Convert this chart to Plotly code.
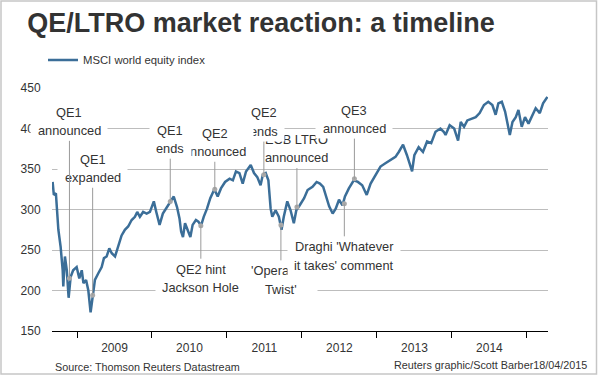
import plotly.graph_objects as go

# ---------------- data ----------------
dates = [
    "2008-09-04", "2008-09-10", "2008-09-20", "2008-09-26", "2008-10-02", "2008-10-13",
    "2008-10-23", "2008-10-26", "2008-11-03", "2008-11-12", "2008-11-21", "2008-12-01",
    "2008-12-13", "2008-12-30", "2009-01-12", "2009-01-24", "2009-02-01", "2009-02-14",
    "2009-02-25", "2009-03-08", "2009-03-18", "2009-03-29", "2009-04-14", "2009-05-01",
    "2009-05-12", "2009-05-25", "2009-06-07", "2009-06-19", "2009-07-05", "2009-07-21",
    "2009-08-06", "2009-08-22", "2009-09-07", "2009-09-24", "2009-10-10", "2009-10-21",
    "2009-11-03", "2009-11-19", "2009-12-06", "2009-12-22", "2010-01-10", "2010-01-22",
    "2010-02-07", "2010-02-23", "2010-03-19", "2010-04-04", "2010-04-17", "2010-05-03",
    "2010-05-15", "2010-05-23", "2010-06-01", "2010-06-11", "2010-06-24", "2010-07-07",
    "2010-07-18", "2010-08-03", "2010-08-15", "2010-08-28", "2010-09-10", "2010-09-26",
    "2010-10-12", "2010-11-01", "2010-11-17", "2010-12-03", "2010-12-23", "2011-01-14",
    "2011-01-30", "2011-02-14", "2011-03-03", "2011-03-19", "2011-04-04", "2011-04-27",
    "2011-05-13", "2011-05-29", "2011-06-14", "2011-06-25", "2011-07-09", "2011-07-22",
    "2011-08-02", "2011-08-10", "2011-08-26", "2011-09-11", "2011-09-24", "2011-10-05",
    "2011-10-22", "2011-11-07", "2011-11-23", "2011-12-05", "2011-12-21", "2012-01-12",
    "2012-01-29", "2012-02-22", "2012-03-13", "2012-03-29", "2012-04-14", "2012-04-27",
    "2012-05-13", "2012-05-30", "2012-06-14", "2012-06-30", "2012-07-17", "2012-07-29",
    "2012-08-17", "2012-09-10", "2012-09-30", "2012-10-21", "2012-11-12", "2012-12-01",
    "2012-12-26", "2013-01-18", "2013-02-11", "2013-03-08", "2013-04-01", "2013-04-17",
    "2013-05-08", "2013-05-27", "2013-06-21", "2013-07-02", "2013-07-23", "2013-08-13",
    "2013-09-02", "2013-09-22", "2013-10-13", "2013-11-06", "2013-11-22", "2013-12-01",
    "2013-12-21", "2014-01-12", "2014-01-31", "2014-02-13", "2014-03-01", "2014-03-17",
    "2014-04-08", "2014-04-27", "2014-05-16", "2014-06-06", "2014-06-27", "2014-07-17",
    "2014-08-02", "2014-08-15", "2014-09-01", "2014-09-17", "2014-10-10", "2014-10-23",
    "2014-11-08", "2014-11-21", "2014-12-07", "2014-12-23", "2015-01-09", "2015-01-28",
    "2015-02-13", "2015-03-05", "2015-03-21", "2015-04-11",
]
index_values = [
    334, 318, 320, 297, 275, 254,
    225, 205, 242, 225, 191, 217,
    225, 229, 215, 225, 209, 213,
    200, 173, 192, 213, 221, 229,
    240, 242, 252, 246, 242, 256,
    268, 275, 279, 287, 291, 297,
    291, 297, 295, 297, 310, 297,
    281, 295, 305, 310, 316, 303,
    289, 273, 266, 283, 275, 266,
    281, 287, 285, 280, 291, 301,
    314, 325, 316, 326, 334, 338,
    336, 347, 345, 332, 347, 355,
    345, 340, 330, 343, 345, 336,
    301, 291, 299, 291, 275, 291,
    310, 299, 283, 299, 305, 314,
    324, 328, 334, 332, 328, 318,
    304, 295, 301, 312, 305, 316,
    326, 336, 334, 330, 318, 332,
    343, 353, 357, 361, 365, 371,
    380, 367, 347, 367, 377, 371,
    384, 382, 396, 400, 396, 392,
    404, 400, 385, 408, 402, 410,
    412, 414, 419, 429, 433, 429,
    417, 431, 433, 421, 392, 408,
    414, 423, 402, 414, 406, 417,
    425, 419, 431, 439,
]

event_dates = ["2008-11-25", "2009-03-18", "2010-03-31", "2010-08-27", "2010-11-03",
               "2011-06-30", "2011-09-21", "2011-12-08", "2012-07-26", "2012-09-13"]
event_values = [215, 194, 310, 280, 325, 343, 281, 303, 307, 338]
event_line1 = ["QE1", "QE1", "QE1", "QE2 hint", "QE2", "QE2", "'Operation",
               "ECB LTRO", "Draghi 'Whatever", "QE3"]
event_line2 = ["announced", "expanded", "ends", "Jackson Hole", "announced", "ends",
               "Twist'", "announced", "it takes' comment", "announced"]

y_ticks = [150, 200, 250, 300, 350, 400, 450]

# ---------------- label layout (pixel offsets / box widths) ----------------
label_offsets = [
    (-157, 165.6, 148.1),
    (-127.1, 135.9, 118.2),
    (-62.2, 71.1, 53.4),
    (52.5, -43.5, -61.6),
    (-47, 56, 38),
    (-52.6, 61.7, 43.5),
    (55, -45.4, -64.6),
    (-58.5, 67.6, 49.3),
    (52, -42.9, -61.2),
    (-59.6, 68.7, 50.6),
]
box_widths = [70, 63, 35, 84, 70, 35, 66, 71, 106, 70]
draw_order = [7, 5, 4, 2, 1, 0, 9, 6, 8, 3]

FONT = "Liberation Sans, Arial, sans-serif"
TXT = "#333333"
ANN_SIZE = 12.8

fig = go.Figure()
fig.add_trace(go.Scatter(
    x=dates, y=index_values, mode="lines", name="MSCI world equity index",
    line=dict(color="#3b6e98", width=2.5), hoverinfo="skip",
))
fig.add_trace(go.Scatter(
    x=event_dates, y=event_values, mode="markers", showlegend=False,
    marker=dict(color="#a9a9a9", size=5), hoverinfo="skip",
))

annotations = []
for i in draw_order:
    ay, s1, s2 = label_offsets[i]
    # white label box with leader line to the event point
    annotations.append(dict(
        x=event_dates[i], y=event_values[i], xref="x", yref="y",
        text="\u00a0", width=box_widths[i], height=32,
        font=dict(family=FONT, size=ANN_SIZE, color=TXT),
        bgcolor="white", borderpad=3, showarrow=True, arrowhead=0,
        arrowwidth=1, arrowcolor="#9a9a9a", ax=0, ay=ay, standoff=0,
    ))
    for line, s in ((event_line1[i], s1), (event_line2[i], s2)):
        annotations.append(dict(
            x=event_dates[i], y=event_values[i], xref="x", yref="y",
            text=line, showarrow=False, yshift=s,
            font=dict(family=FONT, size=ANN_SIZE, color=TXT),
        ))

annotations.append(dict(
    x=0.002, y=-0.147, xref="paper", yref="paper", xanchor="left", yanchor="middle",
    text="Source: Thomson Reuters Datastream", showarrow=False,
    font=dict(family=FONT, size=10.8, color=TXT),
))
annotations.append(dict(
    x=1.0833, y=-0.14, xref="paper", yref="paper", xanchor="right", yanchor="middle",
    text="Reuters graphic/Scott Barber18/04/2015", showarrow=False,
    font=dict(family=FONT, size=10.8, color=TXT),
))

fig.update_layout(
    width=600, height=376,
    margin=dict(l=52, r=52, t=88, b=45, pad=0, autoexpand=False),
    paper_bgcolor="white", plot_bgcolor="white",
    font=dict(family=FONT, size=12, color=TXT),
    title=dict(
        text="QE/LTRO market reaction: a timeline",
        font=dict(family=FONT, size=27, color=TXT, weight="bold"),
        x=261 / 600, xref="container", xanchor="center",
        y=1 - 22.7 / 376, yref="container", yanchor="middle",
    ),
    showlegend=True,
    legend=dict(
        x=43 / 600, xref="container", xanchor="left",
        y=1 - 60 / 376, yref="container", yanchor="middle",
        font=dict(family=FONT, size=11.3, color=TXT),
        bgcolor="rgba(0,0,0,0)", borderwidth=0,
    ),
    xaxis=dict(
        type="date", range=["2008-09-01", "2015-04-14"],
        tick0="2009-01-01", dtick="M12", tickformat="%Y", ticklabelmode="period",
        ticks="outside", ticklen=6, tickwidth=1, tickcolor="black",
        showline=True, linecolor="black", linewidth=1,
        showgrid=False, zeroline=False,
        tickfont=dict(family=FONT, size=12, color=TXT),
    ),
    yaxis=dict(
        range=[150, 450], tickvals=y_ticks,
        ticks="outside", ticklen=8, tickcolor="rgba(0,0,0,0)",
        showgrid=True, gridcolor="#bdbdbd", gridwidth=1,
        zeroline=False, showline=False,
        tickfont=dict(family=FONT, size=12, color=TXT),
    ),
    annotations=annotations,
    shapes=[dict(
        type="rect", xref="paper", yref="paper",
        x0=(1 - 52) / 496, x1=(596.5 - 52) / 496,
        y0=(331 - 374) / 243, y1=(331 - 1) / 243,
        line=dict(color="#c6c6c6", width=1.5), fillcolor="rgba(0,0,0,0)",
        layer="below",
    )],
)

fig.write_html(
    "out.html",
    config={"displayModeBar": False},
    post_script="document.body.style.margin='0px';",
)
